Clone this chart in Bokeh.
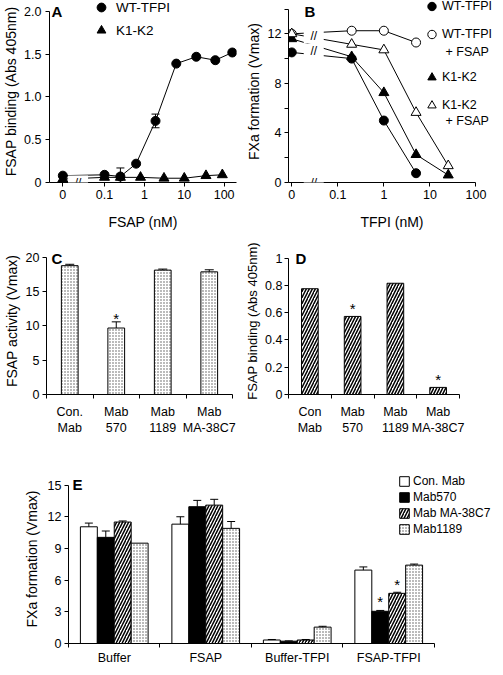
import numpy as np
from bokeh.plotting import figure
from bokeh.layouts import column, row
from bokeh.models import (Range1d, FixedTicker, Legend, LegendItem, Label, Whisker,
                          ColumnDataSource, TeeHead)
from bokeh.embed import file_html
from bokeh.resources import INLINE
from bokeh.core.properties import value

FONT = "Liberation Sans"
TICK_FS = "12.5px"
TITLE_FS = "14px"

# ---------------- data ----------------
# Panel A
A_WT_FSAP = [0, 0.1, 0.25, 0.62, 1.9, 6.3, 20, 60, 160]
A_WT_BIND = [0.08, 0.09, 0.07, 0.22, 0.72, 1.39, 1.47, 1.43, 1.52]
A_WT_ERR = [0, 0, 0.1, 0, 0.08, 0, 0, 0, 0]
A_K1_FSAP = [0, 0.1, 0.25, 0.8, 3.1, 10, 35, 90]
A_K1_BIND = [0.04, 0.06, 0.06, 0.06, 0.05, 0.05, 0.08, 0.09]
A_XTICKS = [0, 0.1, 1, 10, 100]
A_XLABELS = ["0", "0.1", "1", "10", "100"]
A_YTICKS = [0, 0.5, 1.0, 1.5, 2.0]
A_YLABELS = ["0", "0.5", "1.0", "1.5", "2.0"]

# Panel B
B_TFPI = [0, 0.2, 1, 5, 25]
B_WT = [10.5, 10.0, 5.0, 0.75]
B_WT_FSAP = [12.0, 12.25, 12.25, 11.3]
B_K1 = [11.6, 10.15, 7.25, 2.25, 0.6]
B_K1_FSAP = [12.0, 11.15, 10.7, 5.65, 1.35]
B_XTICKS = [0, 0.1, 1, 10, 100]
B_XLABELS = ["0", "0.1", "1", "10", "100"]
B_YTICKS = [0, 4, 8, 12]
B_YMINOR = [2, 6, 10, 14]

# Panel C
C_CATS = ["Con.\nMab", "Mab\n570", "Mab\n1189", "Mab\nMA-38C7"]
C_VAL = [18.8, 9.7, 18.15, 17.9]
C_ERR = [0.2, 0.9, 0.15, 0.3]
C_STAR = [False, True, False, False]
C_YTICKS = [0, 5, 10, 15, 20]

# Panel D
D_CATS = ["Con\nMab", "Mab\n570", "Mab\n1189", "Mab\nMA-38C7"]
D_VAL = [0.775, 0.572, 0.815, 0.052]
D_STAR = [False, True, False, True]
D_YTICKS = [0, 0.2, 0.4, 0.6, 0.8, 1.0]
D_YLABELS = ["0", "0.2", "0.4", "0.6", "0.8", "1"]

# Panel E
E_GROUPS = ["Buffer", "FSAP", "Buffer-TFPI", "FSAP-TFPI"]
E_SERIES = ["Con. Mab", "Mab570", "Mab MA-38C7", "Mab1189"]
E_CON = [11.05, 11.3, 0.33, 6.95]
E_CON_ERR = [0.35, 0.7, 0.05, 0.3]
E_570 = [10.05, 12.95, 0.22, 3.05]
E_570_ERR = [0.6, 0.6, 0.03, 0.08]
E_38C7 = [11.5, 13.1, 0.33, 4.75]
E_38C7_ERR = [0.1, 0.55, 0.05, 0.1]
E_1189 = [9.5, 10.9, 1.55, 7.42]
E_1189_ERR = [0.0, 0.65, 0.08, 0.1]
E_570_STAR = [False, False, False, True]
E_38C7_STAR = [False, False, False, True]
E_YTICKS = [0, 3, 6, 9, 12, 15]

ZERO_A = 0.009   # where the "0" concentration sits on the broken log axis
ZERO_B = 0.01


def base_fig(w, h, l, r, t, b, **kw):
    p = figure(width=w, height=h, output_backend="svg", toolbar_location=None,
               min_border_left=l, min_border_right=r, min_border_top=t,
               min_border_bottom=b, **kw)
    p.grid.visible = False
    p.outline_line_color = None
    p.background_fill_color = "white"
    p.border_fill_color = "white"
    return p


def style(p):
    for ax in p.axis:
        ax.axis_line_color = "black"
        ax.axis_line_width = 1
        ax.major_tick_line_color = "black"
        ax.minor_tick_line_color = "black"
        ax.major_tick_out = 4
        ax.major_tick_in = 0
        ax.minor_tick_out = 0
        ax.minor_tick_in = 0
        ax.major_label_text_font = FONT
        ax.major_label_text_font_size = TICK_FS
        ax.major_label_text_color = "black"
        ax.axis_label_text_font = FONT
        ax.axis_label_text_font_size = TITLE_FS
        ax.axis_label_text_font_style = "normal"
        ax.axis_label_text_color = "black"


def add_break(p, x, y):
    p.add_layout(Label(x=x, y=y, text="\u00a0\u00a0//\u00a0\u00a0", text_font=FONT,
                       text_font_size="12px", text_align="center", text_baseline="middle",
                       background_fill_color="white", text_color="black"))


def add_letter(p, txt, x, y):
    p.add_layout(Label(x=x, y=y, x_units="screen", y_units="screen", text=txt,
                       text_font=FONT, text_font_size="15px", text_font_style="bold",
                       text_baseline="alphabetic", text_color="black"))


def add_legend(p, items, x, y, glyph_w, glyph_h, label_h, spacing, standoff, fs):
    leg = Legend(items=items, location=(x, y), padding=0, margin=0, spacing=spacing,
                 glyph_width=glyph_w, glyph_height=glyph_h, label_height=label_h,
                 label_standoff=standoff, border_line_color=None,
                 background_fill_alpha=0, label_text_font=FONT,
                 label_text_font_size=fs, label_text_color="black")
    p.add_layout(leg)


def add_stars(p, xs, tops, flags, off):
    sx = [x for x, f in zip(xs, flags) if f]
    sy = [t for t, f in zip(tops, flags) if f]
    p.text(x=sx, y=sy, text=["*"] * len(sx), text_font=value(FONT),
           text_font_size="15px", text_align="center", text_baseline="alphabetic",
           y_offset=-off, text_color="black")


def upper_whiskers(p, xs, vals, errs, size=9):
    idx = [i for i, e in enumerate(errs) if e > 0]
    src = ColumnDataSource(dict(x=[xs[i] for i in idx],
                                lo=[vals[i] for i in idx],
                                hi=[vals[i] + errs[i] for i in idx]))
    p.add_layout(Whisker(source=src, base="x", lower="lo", upper="hi",
                         line_color="black", line_width=1, level="glyph",
                         upper_head=TeeHead(size=size, line_color="black", line_width=1),
                         lower_head=None))


# ---------------- Panel A ----------------
pA = base_fig(242, 238, 40, 6, 0, 56, x_axis_type="log",
              x_range=Range1d(0.00417, 204), y_range=Range1d(0, 2.128))
ax_ = [ZERO_A if v == 0 else v for v in A_WT_FSAP]
kx_ = [ZERO_A if v == 0 else v for v in A_K1_FSAP]
pA.line(ax_, A_WT_BIND, line_color="black", line_width=1)
pA.line(kx_, A_K1_BIND, line_color="black", line_width=1)
idx = [i for i, e in enumerate(A_WT_ERR) if e > 0]
srcA = ColumnDataSource(dict(x=[ax_[i] for i in idx],
                             lo=[max(A_WT_BIND[i] - A_WT_ERR[i], 0) for i in idx],
                             hi=[A_WT_BIND[i] + A_WT_ERR[i] for i in idx]))
pA.add_layout(Whisker(source=srcA, base="x", lower="lo", upper="hi", line_color="black",
                      upper_head=TeeHead(size=8, line_color="black"),
                      lower_head=TeeHead(size=8, line_color="black")))
rA1 = pA.scatter(ax_, A_WT_BIND, marker="circle", size=9, fill_color="black", line_color="black")
rA2 = pA.scatter(kx_, A_K1_BIND, marker="triangle", size=10, fill_color="black", line_color="black")
pA.xaxis.ticker = FixedTicker(ticks=[ZERO_A if t == 0 else t for t in A_XTICKS])
pA.xaxis.major_label_overrides = {float(ZERO_A if t == 0 else t): l for t, l in zip(A_XTICKS, A_XLABELS)}
pA.yaxis.ticker = FixedTicker(ticks=A_YTICKS)
pA.yaxis.major_label_overrides = {float(t): l for t, l in zip(A_YTICKS, A_YLABELS)}
pA.yaxis.bounds = (0, 2.0)
pA.xaxis.axis_label = "FSAP (nM)"
pA.yaxis.axis_label = "FSAP binding (Abs 405nm)"
style(pA)
pA.xaxis.major_label_standoff = 3
pA.xaxis.axis_label_standoff = 12
pA.yaxis.major_label_standoff = 4
pA.yaxis.axis_label_standoff = 2
add_break(pA, 0.0217, 0)
add_legend(pA, [LegendItem(label="WT-TFPI", renderers=[rA1]),
                LegendItem(label="K1-K2", renderers=[rA2])],
           41, 141, 22, 22, 16, 1, 4, "13.5px")
add_letter(pA, "A", 2, 171)

# ---------------- Panel B ----------------
pB = base_fig(253, 238, 39, 0, 0, 56, x_axis_type="log",
              x_range=Range1d(0.00849, 265.6), y_range=Range1d(0, 14.69))
bx = [ZERO_B if v == 0 else v for v in B_TFPI]
series_B = [(B_WT, "circle", 9, "black"), (B_WT_FSAP, "circle", 9, "white"),
            (B_K1, "triangle", 10, "black"), (B_K1_FSAP, "triangle", 10, "white")]
for ys, mk, sz, fc in series_B:
    pB.line(bx[:len(ys)], ys, line_color="black", line_width=1)
rB = []
for ys, mk, sz, fc in series_B:
    rB.append(pB.scatter(bx[:len(ys)], ys, marker=mk, size=sz, fill_color=fc,
                         line_color="black", line_width=1))
pB.xaxis.ticker = FixedTicker(ticks=[ZERO_B if t == 0 else t for t in B_XTICKS])
pB.xaxis.major_label_overrides = {float(ZERO_B if t == 0 else t): l for t, l in zip(B_XTICKS, B_XLABELS)}
pB.xaxis.bounds = (0.00849, 100)
pB.yaxis.ticker = FixedTicker(ticks=B_YTICKS, minor_ticks=B_YMINOR)
pB.yaxis.bounds = (0, 14)
pB.xaxis.axis_label = "TFPI (nM)"
pB.yaxis.axis_label = "FXa formation (Vmax)"
style(pB)
pB.yaxis.minor_tick_out = 4
pB.xaxis.major_label_standoff = 3
pB.xaxis.axis_label_standoff = 12
pB.yaxis.major_label_standoff = 3
pB.yaxis.axis_label_standoff = 3
add_break(pB, 0.03, 0)
add_break(pB, 0.03, 11.8)
add_break(pB, 0.03, 10.65)
add_legend(pB, [LegendItem(label="WT-TFPI", renderers=[rB[0]]),
                LegendItem(label="WT-TFPI", renderers=[rB[1]])],
           133, 137, 21, 22, 16, 6, 0, "12.5px")
add_legend(pB, [LegendItem(label="K1-K2", renderers=[rB[2]]),
                LegendItem(label="K1-K2", renderers=[rB[3]])],
           133, 66, 21, 22, 16, 6, 0, "12.5px")
for yy in (131, 62):
    pB.add_layout(Label(x=157, y=yy, x_units="screen", y_units="screen", text="+ FSAP",
                        text_font=FONT, text_font_size="12.5px", text_baseline="middle",
                        text_color="black"))
add_letter(pB, "B", 16, 171)


# ---------------- Panels C & D ----------------
def cat_axis(p, cats, standoff):
    n = len(cats)
    centers = [i + 0.5 for i in range(n)]
    p.xaxis.ticker = FixedTicker(ticks=centers, minor_ticks=list(range(n + 1)))
    p.xaxis.major_label_overrides = {float(c): l for c, l in zip(centers, cats)}
    p.xaxis.major_tick_out = 0
    p.xaxis.minor_tick_out = 4
    p.xaxis.major_label_standoff = standoff
    return centers


pC = base_fig(242, 200, 39, 10, 9, 43, x_range=Range1d(0, len(C_CATS)), y_range=Range1d(0, 21.45))
style(pC)
cxC = cat_axis(pC, C_CATS, 6)
pC.vbar(x=cxC, top=C_VAL, width=0.36, fill_color="white", line_color="black",
        hatch_pattern="dot", hatch_scale=3, hatch_color="#555555", hatch_weight=1)
upper_whiskers(pC, cxC, C_VAL, C_ERR, 9)
add_stars(pC, cxC, [v + e for v, e in zip(C_VAL, C_ERR)], C_STAR, 3)
pC.yaxis.ticker = FixedTicker(ticks=C_YTICKS)
pC.yaxis.bounds = (0, 20)
pC.yaxis.axis_label = "FSAP activity (Vmax)"
pC.yaxis.major_label_standoff = 3
pC.yaxis.axis_label_standoff = 3
add_letter(pC, "C", 5, 136)

pD = base_fig(253, 200, 45, 36, 9, 43, x_range=Range1d(0, len(D_CATS)), y_range=Range1d(0, 1.077))
style(pD)
cxD = cat_axis(pD, D_CATS, 6)
pD.vbar(x=cxD, top=D_VAL, width=0.39, fill_color="white", line_color="black",
        hatch_pattern="/", hatch_scale=6, hatch_color="black", hatch_weight=1.5)
add_stars(pD, cxD, D_VAL, D_STAR, 8)
pD.yaxis.ticker = FixedTicker(ticks=D_YTICKS)
pD.yaxis.major_label_overrides = {float(t): l for t, l in zip(D_YTICKS, D_YLABELS)}
pD.yaxis.bounds = (0, 1.0)
pD.yaxis.axis_label = "FSAP binding (Abs 405nm)"
pD.yaxis.axis_label_text_font_size = "13px"
pD.yaxis.major_label_standoff = 2
pD.yaxis.axis_label_standoff = 2
add_letter(pD, "D", 7, 136)

# ---------------- Panel E ----------------
pE = base_fig(495, 229, 68, 0, 36, 21, x_range=Range1d(0, 4.667), y_range=Range1d(0, 16.0))
style(pE)
cxE = cat_axis(pE, E_GROUPS, 3)
pE.xaxis.bounds = (0, len(E_GROUPS))
W = 0.185
offs = [-1.5 * W, -0.5 * W, 0.5 * W, 1.5 * W]
styles_E = [dict(fill_color="white"),
            dict(fill_color="black"),
            dict(fill_color="white", hatch_pattern="/", hatch_scale=6, hatch_color="black", hatch_weight=1.5),
            dict(fill_color="white", hatch_pattern="dot", hatch_scale=3, hatch_color="#555555", hatch_weight=1)]
vals_E = [E_CON, E_570, E_38C7, E_1189]
errs_E = [E_CON_ERR, E_570_ERR, E_38C7_ERR, E_1189_ERR]
rE = []
for vals, errs, off, st in zip(vals_E, errs_E, offs, styles_E):
    xs = [c + off for c in cxE]
    rE.append(pE.vbar(x=xs, top=vals, width=W, line_color="black", **st))
    upper_whiskers(pE, xs, vals, errs, 8)
add_stars(pE, [c + offs[1] for c in cxE], [v + e for v, e in zip(E_570, E_570_ERR)], E_570_STAR, 9)
add_stars(pE, [c + offs[2] for c in cxE], [v + e for v, e in zip(E_38C7, E_38C7_ERR)], E_38C7_STAR, 8)
pE.yaxis.ticker = FixedTicker(ticks=E_YTICKS)
pE.yaxis.bounds = (0, 15)
pE.yaxis.axis_label = "FXa formation (Vmax)"
pE.yaxis.major_label_standoff = 3
pE.yaxis.axis_label_standoff = 5
add_legend(pE, [LegendItem(label=s, renderers=[r]) for s, r in zip(E_SERIES, rE)],
           330, 106, 12, 12, 16, 0, 3, "12px")
add_letter(pE, "E", 4, 159)

layout = column(row(pA, pB), row(pC, pD), pE)
open("out.html", "w").write(file_html(layout, INLINE))
